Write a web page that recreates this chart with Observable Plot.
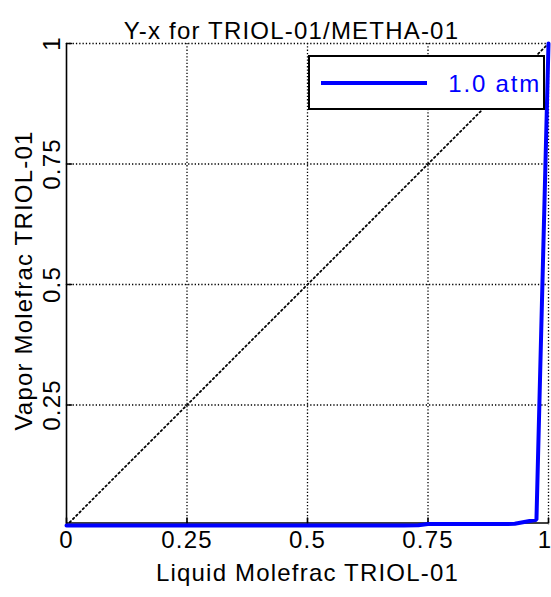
<!DOCTYPE html>
<html>
<head>
<meta charset="utf-8">
<script src="https://cdn.jsdelivr.net/npm/d3@7"></script>
<script src="https://cdn.jsdelivr.net/npm/@observablehq/plot@0.6"></script>
<style>
  html, body { margin: 0; padding: 0; background: #fff; }
  svg { font-family: "Liberation Sans", Arial, sans-serif; }
  svg text { letter-spacing: 1.2px; }
  svg g.last-tick text { letter-spacing: 0; }
</style>
</head>
<body>
<div id="chart"></div>
<script>
// Data
const liquidX = [0, 0.1, 0.2, 0.3, 0.4, 0.5, 0.6, 0.7, 0.73, 0.75, 0.8, 0.85, 0.9, 0.93, 0.975, 1.0];
const vaporY  = [0, 0, 0, 0, 0, 0, 0, 0, 0.0005, 0.003, 0.003, 0.003, 0.003, 0.0035, 0.012, 1.0];
const xTicks = [0, 0.25, 0.5, 0.75, 1];
const yTicks = [0.25, 0.5, 0.75, 1];
const gridTicks = [0.25, 0.5, 0.75, 1];
const diagonal = [[0, 0], [1, 1]];
const seriesLabel = "1.0 atm";
const titleText = "Y-x for TRIOL-01/METHA-01";
const xLabel = "Liquid Molefrac TRIOL-01";
const yLabel = "Vapor Molefrac TRIOL-01";

const curve = liquidX.map((x, i) => ({x, y: vaporY[i]}));
const blue = "#0000ff";
const fs = 24;

const tickShape = {
  draw(context, l) { context.moveTo(0, 0); context.lineTo(0, -l); }
};

const chart = Plot.plot({
  width: 551,
  height: 597,
  marginLeft: 66,
  marginRight: 3,
  marginTop: 43,
  marginBottom: 72,
  x: {domain: [0, 1], axis: null},
  y: {domain: [0, 1], axis: null},
  style: {fontFamily: '"Liberation Sans", Arial, sans-serif', background: "#fff"},
  marks: [
    Plot.gridX(gridTicks, {stroke: "black", strokeOpacity: 1, strokeWidth: 1.3, strokeDasharray: "1.3,2"}),
    Plot.gridY(gridTicks, {stroke: "black", strokeOpacity: 1, strokeWidth: 1.3, strokeDasharray: "1.3,2"}),
    Plot.line(diagonal, {x: d => d[0], y: d => d[1], stroke: "black", strokeWidth: 1.8, strokeDasharray: "1.6,3"}),
    Plot.ruleX([0], {stroke: "black", strokeWidth: 1.6}),
    Plot.ruleY([0], {stroke: "black", strokeWidth: 1.6, dy: -2.5}),
    Plot.vector(xTicks, {x: d => d, y: 0, length: 5, rotate: 0, anchor: "start", shape: tickShape, stroke: "black", strokeWidth: 1.6, dy: -2.5}),
    Plot.vector(yTicks, {x: 0, y: d => d, length: 5, rotate: 90, anchor: "start", shape: tickShape, stroke: "black", strokeWidth: 1.6}),
    Plot.line(curve, {x: "x", y: "y", stroke: blue, strokeWidth: 4, strokeLinejoin: "miter"}),
    Plot.text(xTicks.filter(d => d < 1), {x: d => d, frameAnchor: "bottom", dy: 22, text: d => String(d), fontSize: fs, fill: "black"}),
    Plot.text(xTicks.filter(d => d === 1), {x: d => d, frameAnchor: "bottom", dy: 22, dx: -4, text: d => String(d), fontSize: fs, fill: "black", className: "last-tick"}),
    Plot.text(yTicks, {y: d => d, frameAnchor: "left", textAnchor: "middle", dx: -14, rotate: -90, text: d => String(d), fontSize: fs, fill: "black"}),
    Plot.text([xLabel], {frameAnchor: "bottom", dy: 55, text: d => d, fontSize: fs, fill: "black"}),
    Plot.text([yLabel], {frameAnchor: "left", textAnchor: "middle", dx: -42, dy: -4, rotate: -90, text: d => d, fontSize: fs, fill: "black"}),
    Plot.text([titleText], {frameAnchor: "top", dx: -16, dy: -22, text: d => d, fontSize: fs, fill: "black"})
  ]
});

document.getElementById("chart").appendChild(chart);

// Legend box (top-right inside the plot frame)
const svg = d3.select(chart);
const lg = svg.append("g").attr("class", "legend");
lg.append("rect")
  .attr("x", 309).attr("y", 56).attr("width", 235).attr("height", 53)
  .attr("fill", "white").attr("stroke", "black").attr("stroke-width", 2);
lg.append("line")
  .attr("x1", 321).attr("x2", 427).attr("y1", 83).attr("y2", 83)
  .attr("stroke", blue).attr("stroke-width", 4);
lg.append("text")
  .attr("x", 541).attr("y", 83).attr("dy", "0.36em")
  .attr("text-anchor", "end")
  .attr("font-size", fs).attr("fill", blue)
  .style("letter-spacing", "1.8px")
  .text(seriesLabel);
</script>
</body>
</html>
